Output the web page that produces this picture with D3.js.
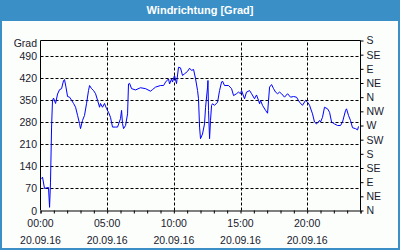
<!DOCTYPE html>
<html>
<head>
<meta charset="utf-8">
<script src="https://cdn.jsdelivr.net/npm/d3@7"></script>
<style>
  body { margin: 0; background: #fff; }
  svg { display: block; font-family: Tahoma, "Liberation Sans", sans-serif; }
</style>
</head>
<body>
<svg id="chart"></svg>
<script>
const width = 400;
const height = 250;
const font = "Tahoma, 'Liberation Sans', sans-serif";

// Stunden (0-24) und Windrichtung in Grad
const hours = [0.08,0.15,0.3,0.45,0.6,0.68,0.75,0.83,0.9,0.98,1.13,1.28,1.43,1.58,1.73,1.8,1.91,2.03,2.18,2.33,2.48,2.63,2.78,2.93,3.0,3.15,3.3,3.45,3.6,3.68,3.83,3.98,4.13,4.28,4.43,4.5,4.65,4.8,4.95,5.1,5.25,5.4,5.63,5.78,6.0,6.08,6.15,6.23,6.38,6.53,6.6,6.68,6.83,7.13,7.5,7.88,8.25,8.4,8.63,9.0,9.23,9.38,9.6,9.68,9.83,9.9,10.05,10.2,10.35,10.5,10.65,10.8,11.03,11.18,11.33,11.48,11.63,11.78,11.85,11.93,12.0,12.15,12.3,12.38,12.53,12.56,12.6,12.68,12.75,12.83,12.9,13.05,13.28,13.43,13.58,13.65,13.8,14.1,14.33,14.48,14.7,14.85,15.0,15.08,15.3,15.45,15.68,15.83,16.05,16.2,16.35,16.43,16.5,16.65,16.88,17.03,17.18,17.33,17.48,17.63,17.78,17.93,18.08,18.3,18.53,18.75,18.98,19.2,19.43,19.65,19.88,20.03,20.18,20.4,20.55,20.7,20.93,21.0,21.15,21.3,21.53,21.68,21.83,22.05,22.28,22.5,22.65,22.88,22.95,23.1,23.25,23.4,23.63,23.78,23.85];
const grad = [101,106,70,72,73,10,90,265,350,357,340,370,384,387,413,416,392,362,360,350,340,328,302,276,260,286,302,339,381,397,387,381,371,350,328,340,328,340,324,312,296,265,265,265,292,318,276,260,270,307,402,404,387,383,390,387,379,384,392,397,397,408,418,402,418,408,429,403,455,453,429,434,442,452,445,448,418,381,355,265,228,243,275,328,392,413,318,228,286,334,339,334,344,381,408,411,397,397,387,365,371,376,371,381,355,376,381,371,355,367,350,339,350,334,318,309,392,400,387,376,371,376,371,360,371,360,362,360,344,334,350,344,334,307,281,275,286,281,296,328,323,312,281,275,270,270,281,318,323,302,286,263,260,256,267];

const leftTicks = [0,70,140,210,280,350,420,490];
const rightTicks = [0,45,90,135,180,225,270,315,360,405,450,495,540];
const rightLabels = ["N","NE","E","SE","S","SW","W","NW","N","NE","E","SE","S"];
const timeTicks = [0,5,10,15,20];
const timeLabels = ["00:00","05:00","10:00","15:00","20:00"];
const dateLabel = "20.09.16";

const svg = d3.select("#chart")
    .attr("width", width)
    .attr("height", height);

// Rahmen + Titelleiste
svg.append("rect").attr("x",0).attr("y",0).attr("width",width).attr("height",height).attr("fill","#3a8fc6");
svg.append("rect").attr("x",2).attr("y",21).attr("width",width-4).attr("height",height-23).attr("fill","#fcfefc");
svg.append("text")
    .attr("x", width/2).attr("y", 14)
    .attr("text-anchor","middle")
    .attr("fill","#fff")
    .attr("font-size",11)
    .attr("font-weight","bold")
    .text("Windrichtung [Grad]");

const x = d3.scaleLinear().domain([0,24]).range([40.5,360.5]);
const y = d3.scaleLinear().domain([0,540]).range([210.5,40.5]);

// Gitter
svg.append("g").selectAll("line")
    .data(leftTicks.slice(1))
    .enter().append("line")
    .attr("x1",x(0)).attr("x2",x(24))
    .attr("y1",d => Math.round(y(d))+0.5).attr("y2",d => Math.round(y(d))+0.5)
    .attr("stroke","#000").attr("stroke-dasharray","3,2");
svg.append("g").selectAll("line")
    .data(timeTicks.slice(1))
    .enter().append("line")
    .attr("x1",d => Math.round(x(d))+0.5).attr("x2",d => Math.round(x(d))+0.5)
    .attr("y1",y(0)).attr("y2",y(540))
    .attr("stroke","#000").attr("stroke-dasharray","3,2");

// Achsen
const bottom = svg.append("g")
    .attr("transform",`translate(0,${y(0)})`)
    .call(d3.axisBottom(x).ticks(24).tickSize(3).tickFormat(""));
bottom.select(".domain").attr("stroke","#000");

const right = svg.append("g")
    .attr("transform",`translate(${x(24)},0)`)
    .call(d3.axisRight(y).tickValues(rightTicks).tickSize(3).tickPadding(3)
        .tickFormat((d,i) => rightLabels[i]));
right.select(".domain").remove();
right.selectAll("text").attr("font-size",10.5).attr("fill","#1a1a2e").attr("font-family",font);

svg.append("line").attr("x1",x(0)).attr("x2",x(0)).attr("y1",y(0)).attr("y2",y(540)).attr("stroke","#000");
svg.append("line").attr("x1",x(24)).attr("x2",x(24)).attr("y1",y(0)).attr("y2",y(540)).attr("stroke","#000");
svg.append("line").attr("x1",x(0)).attr("x2",x(24)).attr("y1",y(540)).attr("y2",y(540)).attr("stroke","#000");

// linke Beschriftung
svg.append("g").selectAll("text")
    .data(leftTicks)
    .enter().append("text")
    .attr("x",37).attr("y",d => y(d)+4)
    .attr("text-anchor","end")
    .attr("font-size",10.5).attr("fill","#1a1a2e")
    .text(d => d);
svg.append("text").attr("x",37).attr("y",47).attr("text-anchor","end")
    .attr("font-size",10.5).attr("fill","#1a1a2e").text("Grad");

// Zeitbeschriftung
const tl = svg.append("g").selectAll("g")
    .data(timeTicks)
    .enter().append("g");
tl.append("text")
    .attr("x",d => x(d)).attr("y",227)
    .attr("text-anchor","middle").attr("font-size",10.5).attr("fill","#1a1a2e")
    .text((d,i) => timeLabels[i]);
tl.append("text")
    .attr("x",d => x(d)).attr("y",244)
    .attr("text-anchor","middle").attr("font-size",10.5).attr("fill","#1a1a2e")
    .text(dateLabel);

// Linie
const line = d3.line()
    .x((d,i) => x(hours[i]))
    .y(d => y(d));
svg.append("path")
    .datum(grad)
    .attr("d",line)
    .attr("fill","none")
    .attr("stroke","#0000ff")
    .attr("stroke-width",1);
</script>
</body>
</html>
